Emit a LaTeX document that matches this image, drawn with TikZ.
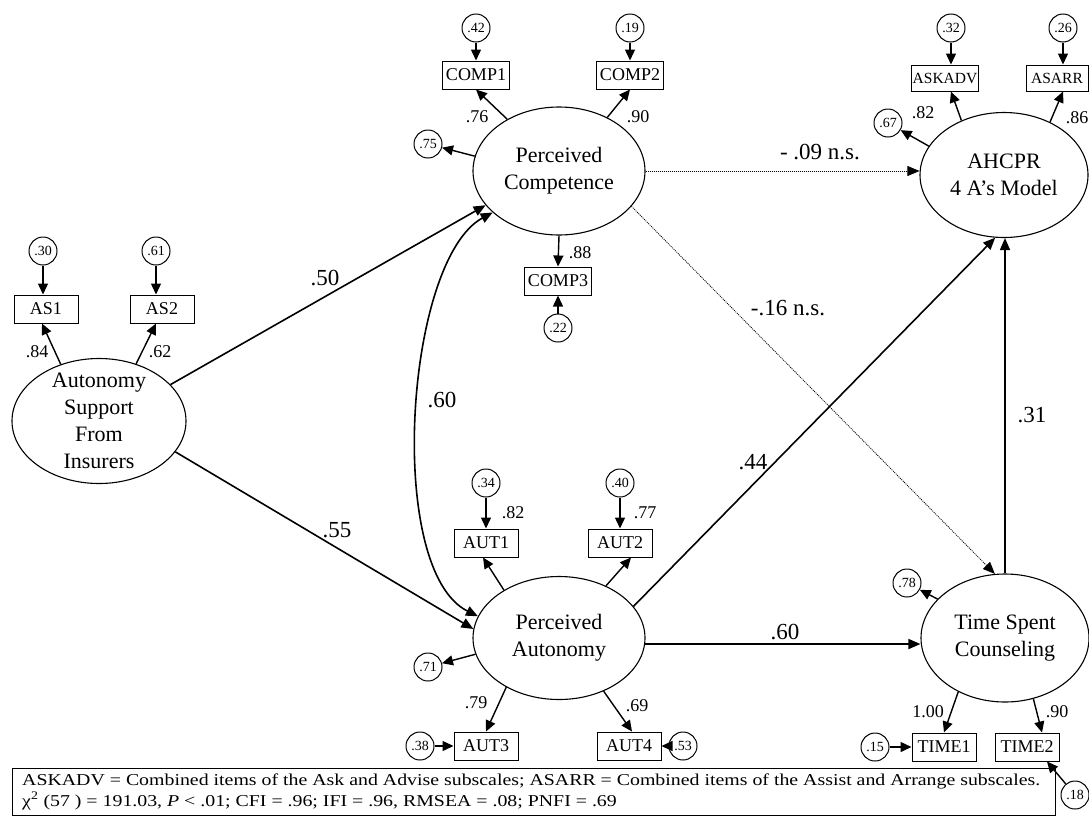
\documentclass[tikz,border=0pt]{standalone}
\usepackage{fontspec}
\usepackage{graphicx}
\setmainfont{Liberation Serif}
\usetikzlibrary{shapes.geometric,arrows.meta}
\begin{document}
\begin{tikzpicture}[x=1pt,y=-1pt,
 lat/.style={ellipse,draw,line width=1.1pt,inner sep=0pt},
 lattxt/.style={align=center,font=\fontsize{22}{27}\selectfont,inner sep=0pt},
 obs/.style={rectangle,draw,line width=1pt,minimum width=64pt,minimum height=28pt,inner xsep=3pt,inner ysep=0pt,font=\fontsize{18}{20}\selectfont},
 obss/.style={obs,font=\fontsize{15.5}{18}\selectfont,minimum width=62pt,minimum height=26pt,inner xsep=1pt},
 err/.style={circle,draw,line width=1pt,minimum size=28pt,inner sep=0pt,font=\fontsize{14}{14}\selectfont},
 pth/.style={line width=1.6pt,-{Triangle[length=12pt,width=10pt]}},
 dpth/.style={line width=1.6pt,{Triangle[length=12pt,width=10pt]}-{Triangle[length=12pt,width=10pt]}},
 meas/.style={line width=1.4pt,-{Triangle[length=11pt,width=10pt]}},
 nsig/.style={line width=0.8pt,dash pattern=on 1pt off 1pt,-{Triangle[length=12pt,width=10pt]}},
 big/.style={font=\fontsize{23}{23}\selectfont,inner sep=0pt},
 small/.style={font=\fontsize{18}{18}\selectfont,inner sep=0pt},
]
\useasboundingbox (0,0) rectangle (1089,825);

% latent variables
\node[lat,minimum width=174pt,minimum height=125pt] (ASI) at (99,421) {};
\node[lattxt] (ASIt) at (ASI.center) {Autonomy\\Support\\From\\Insurers};
\node[lat,minimum width=172pt,minimum height=128pt] (PC) at (559,171) {};
\node[lattxt] (PCt) at (PC.center) {Perceived\\Competence};
\node[lat,minimum width=172pt,minimum height=123pt] (PA) at (559,638) {};
\node[lattxt] (PAt) at (PA.center) {Perceived\\Autonomy};
\node[lat,minimum width=168pt,minimum height=125pt] (AH) at (1004,175) {};
\node[lattxt] (AHt) at (AH.center) {AHCPR\\4 A’s Model};
\node[lat,minimum width=168pt,minimum height=128pt] (TS) at (1005,638) {};
\node[lattxt] (TSt) at (TS.center) {Time Spent\\Counseling};

% indicators
\node[obs] (AS1) at (46,309) {AS1};
\node[obs] (AS2) at (162,309) {AS2};
\node[obs] (COMP1) at (476,75) {COMP1};
\node[obs] (COMP2) at (630,75) {COMP2};
\node[obs] (COMP3) at (558,281) {COMP3};
\node[obss] (ASKADV) at (945,78) {ASKADV};
\node[obss] (ASARR) at (1057,78) {ASARR};
\node[obs] (AUT1) at (486,543) {AUT1};
\node[obs] (AUT2) at (620,543) {AUT2};
\node[obs] (AUT3) at (486,746) {AUT3};
\node[obs] (AUT4) at (629,746) {AUT4};
\node[obs] (TIME1) at (944,747) {TIME1};
\node[obs] (TIME2) at (1027,747) {TIME2};

% error terms
\node[err] (e30) at (43,251) {.30};
\node[err] (e61) at (156,251) {.61};
\node[err] (e42) at (476,28) {.42};
\node[err] (e19) at (630,28) {.19};
\node[err] (e75) at (428,144) {.75};
\node[err] (e22) at (558,328) {.22};
\node[err] (e32) at (951,28) {.32};
\node[err] (e26) at (1063,28) {.26};
\node[err] (e67) at (888,123) {.67};
\node[err] (e34) at (486,483) {.34};
\node[err] (e40) at (620,483) {.40};
\node[err] (e71) at (428,667) {.71};
\node[err] (e38) at (420,746) {.38};
\node[err] (e53) at (683,746) {.53};
\node[err] (e78) at (907,583) {.78};
\node[err] (e15) at (875,747) {.15};
\node[err] (e18) at (1075,795) {.18};

% error -> indicator
\draw[meas] (e30) -- (e30 |- AS1.north);
\draw[meas] (e61) -- (e61 |- AS2.north);
\draw[meas] (e42) -- (COMP1);
\draw[meas] (e19) -- (COMP2);
\draw[meas] (e22) -- (COMP3);
\draw[meas] (e32) -- (e32 |- ASKADV.north);
\draw[meas] (e26) -- (e26 |- ASARR.north);
\draw[meas] (e34) -- (AUT1);
\draw[meas] (e40) -- (AUT2);
\draw[meas] (e38) -- (AUT3);
\draw[meas] (e53) -- (AUT4);
\draw[meas] (e15) -- (TIME1);
\draw[meas] (e18) -- ([xshift=20pt]TIME2.south);

% latent -> indicator
\draw[meas] (ASI.124) -- ([xshift=-4pt]AS1.south);
\draw[meas] (ASI.57) -- ([xshift=-6pt]AS2.south);
\draw[meas] (PC.135) -- (COMP1.south);
\draw[meas] (PC.48) -- (COMP2.south);
\draw[meas] (PC.south) -- (COMP3.north);
\draw[meas] (PC.170) -- (e75);
\draw[meas] (AH.128) -- ([xshift=6pt]ASKADV.south);
\draw[meas] (AH.49) -- ([xshift=6pt]ASARR.south);
\draw[meas] (AH.159) -- (e67);
\draw[meas] (PA.139) -- ([xshift=-3pt]AUT1.south);
\draw[meas] (PA.48) -- ([xshift=11pt]AUT2.south);
\draw[meas] (PA.191) -- (e71);
\draw[meas] (PA.223) -- (AUT3.north);
\draw[meas] (PA.310) -- ([xshift=3pt]AUT4.north);
\draw[meas] (TS.229) -- (TIME1.north);
\draw[meas] (TS.295) -- ([xshift=15pt]TIME2.north);
\draw[meas] (TS.150) -- (e78);

% structural paths
\draw[pth] (ASI.27) -- (PC.205);
\draw[pth] (ASI.338) -- (PA.174);
\draw[dpth] (PC.212) .. controls (405,260) and (385,570) .. (PA.165);
\draw[nsig] (PC.east) -- (PC.east -| AH.west);
\draw[nsig] (PC.334) -- (TS.99);
\draw[pth] (PA.23) -- (AH.262);
\draw[pth] (PA.-4) -- (PA.-4 -| TS.west);
\draw[pth] (TS.north) -- (TS.north |- AH.south);

% path coefficients
\node[big] (l50) at (325,278) {.50};
\node[big] (l55) at (337,530) {.55};
\node[big] (l60a) at (442,400) {.60};
\node[big] (l09) at (820,152) {- .09 n.s.};
\node[big] (l16) at (788,308) {-.16 n.s.};
\node[big] (l44) at (753,462) {.44};
\node[big] (l31) at (1032,415) {.31};
\node[big] (l60b) at (785,632) {.60};

% loadings
\node[small] (l84) at (37,352) {.84};
\node[small] (l62) at (160,352) {.62};
\node[small] (l76) at (477,117) {.76};
\node[small] (l90a) at (638,117) {.90};
\node[small] (l88) at (580,253) {.88};
\node[small] (l82a) at (923,113) {.82};
\node[small] (l86) at (1077,118) {.86};
\node[small] (l82b) at (513,513) {.82};
\node[small] (l77) at (645,513) {.77};
\node[small] (l79) at (476,703) {.79};
\node[small] (l69) at (637,706) {.69};
\node[small] (l100) at (928,712) {1.00};
\node[small] (l90b) at (1057,712) {.90};

% legend
\node[draw,line width=1pt,minimum width=1043pt,minimum height=47pt,inner sep=0pt,anchor=north west] (legbox) at (12,768) {};
\node[inner sep=0pt,anchor=north west] (legtxt) at (22,771) {\resizebox*{1018pt}{41pt}{\fontsize{17}{21}\selectfont\begin{tabular}{@{}l@{}}ASKADV = Combined items of the Ask and Advise subscales; ASARR = Combined items of the Assist and Arrange subscales.\\ χ\textsuperscript{2} (57 ) = 191.03, \textit{P} < .01; CFI = .96; IFI = .96, RMSEA = .08; PNFI = .69\end{tabular}}};
\end{tikzpicture}
\end{document}
